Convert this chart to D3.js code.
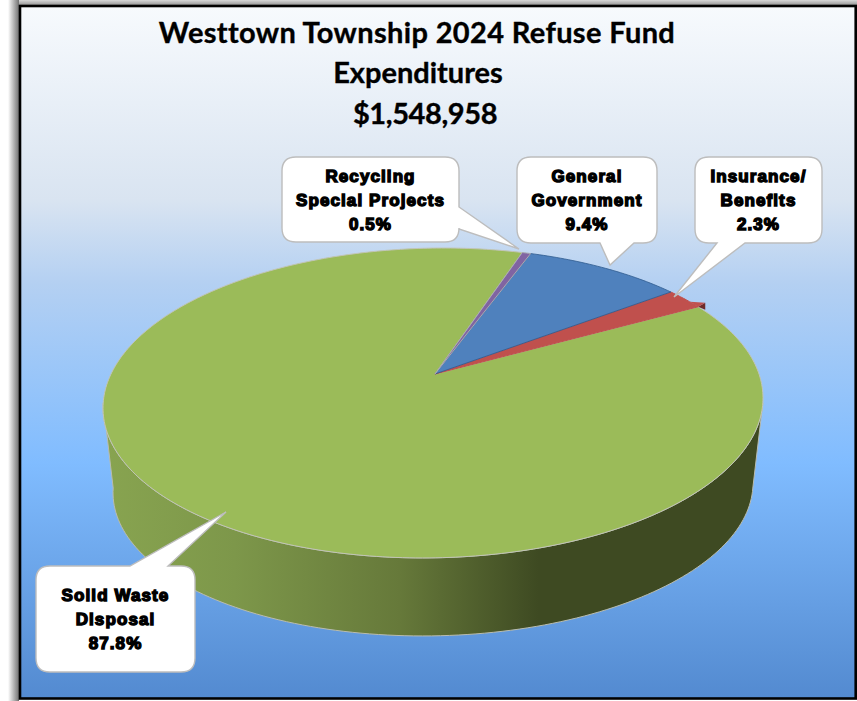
<!DOCTYPE html>
<html><head><meta charset="utf-8">
<script src="https://cdn.jsdelivr.net/npm/d3@7/dist/d3.min.js"></script>
<style>html,body{margin:0;padding:0;background:#fff;overflow:hidden}svg{display:block}</style>
</head><body><div id="c"></div>
<script>
const categories = ["Recycling Special Projects","General Government","Insurance/Benefits","Solid Waste Disposal"];
const values = [0.5,9.4,2.3,87.8];
const colors = ["#8064a2","#4f81bd","#c0504d","#9bbb59"];
const titleLines = ["Westtown Township 2024 Refuse Fund","Expenditures","$1,548,958"];
const labelLines = [["Recycling","Special Projects","0.5%"],["General","Government","9.4%"],["Insurance/","Benefits","2.3%"],["Solid Waste","Disposal","87.8%"]];

const W=857,H=701;
const svg=d3.select("#c").append("svg").attr("width",W).attr("height",H);
const defs=svg.append("defs");
const bg=defs.append("linearGradient").attr("id","bg").attr("x1",0).attr("y1",0).attr("x2",0).attr("y2",1);
[[0,"#f7fafd"],[0.28,"#d9e4f1"],[0.4,"#b4d0f2"],[0.66,"#80bcff"],[1,"#538ad0"]].forEach(s=>bg.append("stop").attr("offset",s[0]).attr("stop-color",s[1]));
const wallGrad=defs.append("linearGradient").attr("id","wall").attr("gradientUnits","userSpaceOnUse").attr("x1",103).attr("x2",763).attr("y1",0).attr("y2",0);
[[0,"#88a450"],[0.2,"#7d974a"],[0.45,"#66793a"],[0.66,"#3e4a22"],[1,"#3e4a22"]].forEach(s=>wallGrad.append("stop").attr("offset",s[0]).attr("stop-color",s[1]));
const shadowLeft=defs.append("linearGradient").attr("id","sh").attr("x1",0).attr("x2",1).attr("y1",0).attr("y2",0);
shadowLeft.append("stop").attr("offset",0).attr("stop-color","#fff");
shadowLeft.append("stop").attr("offset",1).attr("stop-color","#707070");
const shadowTop=defs.append("linearGradient").attr("id","shT").attr("x1",0).attr("x2",0).attr("y1",0).attr("y2",1);
shadowTop.append("stop").attr("offset",0).attr("stop-color","#d8d8d8");
shadowTop.append("stop").attr("offset",1).attr("stop-color","#8a8a8a");

// frame
svg.append("rect").attr("x",8).attr("y",0).attr("width",W-8).attr("height",6).attr("fill","url(#shT)");
svg.append("rect").attr("x",8).attr("y",0).attr("width",11).attr("height",H).attr("fill","url(#sh)");
svg.append("rect").attr("x",20).attr("y",6).attr("width",835.7).attr("height",692.5).attr("fill","url(#bg)").attr("stroke","#000").attr("stroke-width",2.6);

// perspective disc
const apex=[435,374], D=324, E=-10.3, A=79.6, B=374, C=-0.187, toRad=Math.PI/180;
const proj=(t,r=1)=>{const u=r*Math.sin(t),v=-r*Math.cos(t),w=1+C*v;return [apex[0]+(D*u+E*v)/w,(A*v+B)/w];};
const lower=p=>[433+(p[0]-433)*320/330,488+(p[1]-403)*148/155];
const pie=d3.pie().sort(null).value(d=>d).startAngle(16.7*toRad).endAngle((360+16.7)*toRad);
const arcs=pie(values);
const line=d3.line();
const sample=(a,b,n)=>d3.range(n+1).map(i=>a+(b-a)*i/n);

// side wall
const tR=100.8*toRad,tL=259.2*toRad;
const topEdge=sample(tR,tL,120).map(t=>proj(t));
const botEdge=sample(tL,tR,120).map(t=>lower(proj(t)));
svg.append("path").attr("d",line(topEdge.concat(botEdge))+"Z").attr("fill","url(#wall)").attr("stroke","#b9bcae").attr("stroke-width",1);

// slices (green first so the small ones sit on top)
const order=[3,2,1,0];
order.forEach(i=>{
  const d=arcs[i];
  const rim=sample(d.startAngle,d.endAngle,Math.max(4,Math.ceil((d.endAngle-d.startAngle)*60))).map(t=>proj(t));
  if(i===2){
    // the slice's small raised lip at its outer corner
    const e=proj(d.endAngle);
    svg.append("path").attr("d",line([e,[e[0]+7,e[1]-4],[e[0]+7,e[1]+3]])+"Z").attr("fill","#6f2b29");
    svg.append("path").attr("d",line([[e[0]-8,e[1]-5],[e[0]+7,e[1]-4],e])+"Z").attr("fill",colors[i]);
  }
  svg.append("path").attr("d",line([apex].concat(rim))+"Z").attr("fill",colors[i])
    .attr("stroke",i===3?"#c2c5b6":(i===1?"#2f5a8e":(i===2?"#c0504d":"#a9a9b0"))).attr("stroke-width",i===1?0.8:1).attr("stroke-linejoin","round");
});

// callouts
const callouts=[
 {x:282,y:157,w:177,h:85,side:"r",a:[459,207],tip:[519,249],b:[459,229]},
 {x:517,y:157,w:140,h:86,side:"b",a:[634,243],tip:[610,265],b:[600,243]},
 {x:695,y:157,w:127,h:86,side:"b",a:[745,243],tip:[674,297],b:[717,243]},
 {x:36,y:566,w:159,h:106,side:"t",a:[130,566],tip:[226,512],b:[168,566]}
];
const R=14;
function calloutPath(c){
  const p=d3.path(),x=c.x,y=c.y,r=c.x+c.w,b=c.y+c.h;
  p.moveTo(x+R,y);
  if(c.side==="t"){p.lineTo(c.a[0],c.a[1]);p.lineTo(c.tip[0],c.tip[1]);p.lineTo(c.b[0],c.b[1]);}
  p.lineTo(r-R,y);p.quadraticCurveTo(r,y,r,y+R);
  if(c.side==="r"){p.lineTo(c.a[0],c.a[1]);p.lineTo(c.tip[0],c.tip[1]);p.lineTo(c.b[0],c.b[1]);}
  p.lineTo(r,b-R);p.quadraticCurveTo(r,b,r-R,b);
  if(c.side==="b"){p.lineTo(c.a[0],c.a[1]);p.lineTo(c.tip[0],c.tip[1]);p.lineTo(c.b[0],c.b[1]);}
  p.lineTo(x+R,b);p.quadraticCurveTo(x,b,x,b-R);
  p.lineTo(x,y+R);p.quadraticCurveTo(x,y,x+R,y);p.closePath();
  return p.toString();
}
callouts.forEach((c,i)=>{
  svg.append("path").attr("d",calloutPath(c)).attr("fill","#fff").attr("stroke","#bdbdbd").attr("stroke-width",1.4);
  const cx=c.x+c.w/2, y0=c.y+c.h/2-24;
  labelLines[i].forEach((t,j)=>{
    svg.append("text").attr("x",cx).attr("y",y0+j*24+6).attr("text-anchor","middle")
      .attr("font-family","'Liberation Sans',Arial,sans-serif").attr("font-weight",700).attr("font-size",17)
      .attr("letter-spacing",1.1)
      .attr("fill","#000").attr("stroke","#000").attr("stroke-width",1.4).text(t);
  });
});

// title
const titleY=[43,83,124], titleX=[417,418,425], titleSpacing=[0.35,0,-0.4];
titleLines.forEach((t,i)=>svg.append("text").attr("x",titleX[i]).attr("y",titleY[i]).attr("text-anchor","middle")
  .attr("font-family","Lato,sans-serif").attr("font-weight",700).attr("font-size",29).attr("letter-spacing",titleSpacing[i])
  .attr("fill","#000").attr("stroke","#000").attr("stroke-width",0.35).text(t));
</script></body></html>
